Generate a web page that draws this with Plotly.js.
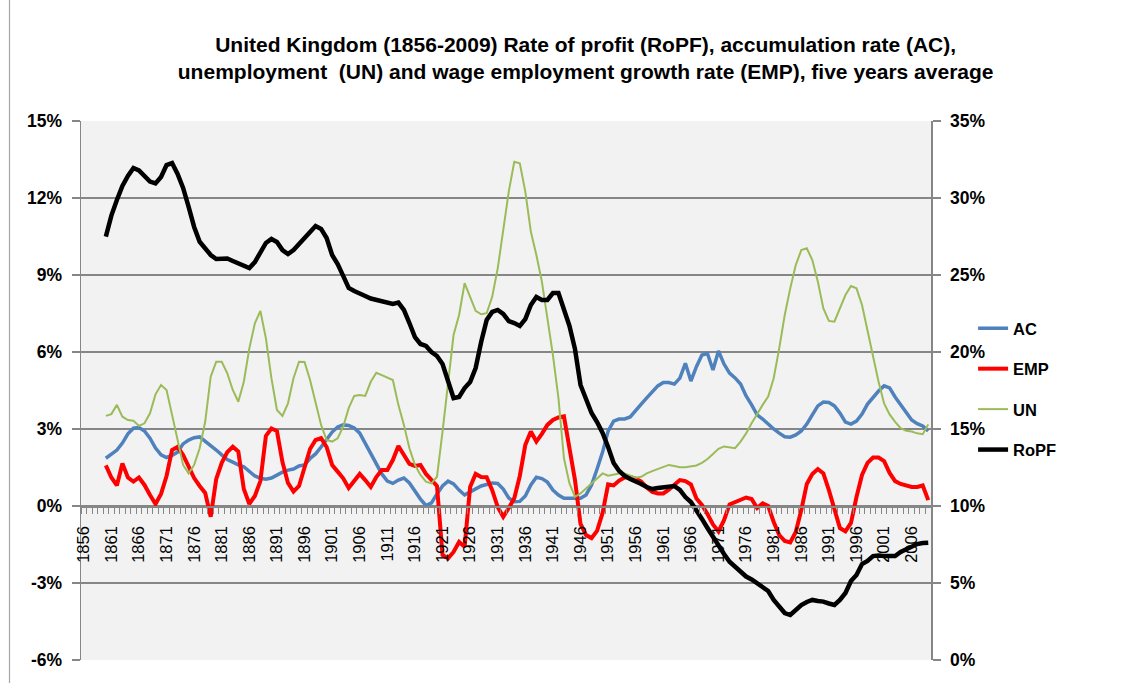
<!DOCTYPE html>
<html><head><meta charset="utf-8">
<script src="https://cdn.plot.ly/plotly-3.0.1.min.js"></script>
<style>html,body{margin:0;padding:0;background:#fff;} #chart{width:1135px;height:683px;}</style>
</head><body><div id="chart"></div>
<script>
const firstYear = 1860, lastYear = 2009;
const years = [];
for (let y = firstYear; y <= lastYear; y++) years.push(y);

// Accumulation rate (AC), % (left axis)
const AC = [
 1.86, 2.03, 2.18, 2.45, 2.81, 3.03, 3.06, 2.92, 2.64, 2.26,
 1.99, 1.89, 1.97, 2.10, 2.42, 2.57, 2.66, 2.69, 2.53, 2.38,
 2.18, 1.99, 1.81, 1.71, 1.60, 1.53, 1.34, 1.17, 1.08, 1.04,
 1.09, 1.21, 1.32, 1.40, 1.44, 1.56, 1.60, 1.85, 2.03, 2.30,
 2.57, 2.88, 3.08, 3.16, 3.14, 3.04, 2.84, 2.45, 2.03, 1.60,
 1.25, 0.97, 0.88, 1.01, 1.09, 0.90, 0.58, 0.27, 0.02, 0.12,
 0.47, 0.78, 0.97, 0.86, 0.62, 0.43, 0.55, 0.66, 0.78, 0.84,
 0.90, 0.88, 0.66, 0.31, 0.17, 0.18, 0.39, 0.82, 1.12, 1.07,
 0.93, 0.62, 0.43, 0.30, 0.30, 0.30, 0.30, 0.43, 0.82, 1.44,
 2.10, 2.92, 3.31, 3.39, 3.39, 3.47, 3.74, 3.97, 4.21, 4.44,
 4.68, 4.81, 4.81, 4.75, 4.98, 5.56, 4.87, 5.43, 5.88, 5.94,
 5.30, 6.04, 5.53, 5.18, 4.99, 4.75, 4.29, 3.94, 3.55, 3.39,
 3.19, 3.00, 2.84, 2.70, 2.68, 2.77, 2.92, 3.19, 3.55, 3.90,
 4.05, 4.03, 3.90, 3.62, 3.27, 3.19, 3.31, 3.58, 3.97, 4.25,
 4.48, 4.68, 4.60, 4.25, 3.94, 3.62, 3.35, 3.21, 3.12, 2.92
];

// Wage employment growth rate (EMP), % (left axis)
const EMP = [
 1.58, 1.11, 0.80, 1.66, 1.11, 0.95, 1.11, 0.82, 0.43, 0.08,
 0.47, 1.17, 2.18, 2.30, 1.99, 1.56, 1.09, 0.78, 0.51, -0.42,
 1.05, 1.68, 2.10, 2.31, 2.12, 0.66, 0.08, 0.39, 0.97, 2.73,
 3.02, 2.92, 1.71, 0.90, 0.56, 0.78, 1.52, 2.22, 2.57, 2.64,
 2.30, 1.60, 1.34, 1.08, 0.70, 0.97, 1.25, 1.01, 0.74, 1.13,
 1.40, 1.40, 1.79, 2.34, 1.99, 1.64, 1.56, 1.60, 1.25, 1.01,
 0.78, -1.91, -2.04, -1.79, -1.40, -1.59, 0.74, 1.25, 1.13, 1.12,
 0.62, -0.04, -0.42, -0.08, 0.30, 1.17, 2.38, 2.90, 2.51, 2.81,
 3.16, 3.35, 3.45, 3.49, 2.34, 1.01, -0.70, -1.13, -1.25, -0.97,
 -0.27, 0.84, 0.80, 0.99, 1.11, 1.13, 1.07, 0.95, 0.72, 0.55,
 0.49, 0.49, 0.64, 0.84, 1.01, 0.97, 0.84, 0.29, 0.04, -0.31,
 -0.72, -0.99, -0.55, 0.06, 0.14, 0.23, 0.33, 0.27, -0.08, 0.10,
 0.00, -0.62, -1.13, -1.36, -1.42, -1.01, -0.16, 0.86, 1.25, 1.44,
 1.27, 0.62, -0.08, -0.86, -0.99, -0.66, 0.35, 1.21, 1.68, 1.89,
 1.89, 1.75, 1.29, 0.97, 0.86, 0.80, 0.74, 0.74, 0.80, 0.23
];

// Unemployment (UN), % (left axis)
const UN = [
 3.51, 3.58, 3.94, 3.48, 3.35, 3.32, 3.12, 3.22, 3.61, 4.35,
 4.71, 4.52, 3.55, 2.57, 1.60, 1.27, 1.60, 2.25, 3.28, 5.04,
 5.62, 5.62, 5.17, 4.52, 4.06, 4.84, 6.14, 7.12, 7.60, 6.53,
 4.98, 3.74, 3.51, 4.00, 4.98, 5.62, 5.61, 4.91, 4.06, 3.16,
 2.57, 2.51, 2.64, 3.09, 3.81, 4.29, 4.32, 4.29, 4.84, 5.19,
 5.10, 5.01, 4.91, 3.94, 3.16, 2.25, 1.60, 1.21, 0.95, 0.88,
 1.14, 2.90, 4.84, 6.66, 7.44, 8.68, 8.15, 7.60, 7.47, 7.51,
 8.15, 9.26, 10.75, 12.25, 13.41, 13.35, 12.25, 10.69, 9.78, 8.74,
 7.31, 5.88, 4.20, 1.86, 0.88, 0.36, 0.49, 0.69, 0.88, 1.08,
 1.27, 1.18, 1.23, 1.27, 1.27, 1.18, 1.10, 1.14, 1.27, 1.36,
 1.44, 1.51, 1.60, 1.56, 1.51, 1.51, 1.54, 1.58, 1.68, 1.83,
 2.03, 2.23, 2.32, 2.29, 2.25, 2.51, 2.83, 3.22, 3.61, 3.94,
 4.26, 4.98, 6.14, 7.44, 8.48, 9.39, 9.97, 10.04, 9.58, 8.74,
 7.70, 7.21, 7.18, 7.70, 8.22, 8.57, 8.48, 7.83, 6.79, 5.75,
 4.84, 4.00, 3.57, 3.28, 3.03, 2.93, 2.90, 2.83, 2.80, 3.18
];

// Rate of profit (RoPF), % (right axis)
const RoPF = [
 27.49, 28.86, 29.87, 30.78, 31.43, 31.95, 31.79, 31.43, 31.07, 30.95,
 31.36, 32.14, 32.27, 31.56, 30.65, 29.42, 28.12, 27.16, 26.69, 26.30,
 26.04, 26.07, 26.07, 25.91, 25.78, 25.58, 25.45, 25.84, 26.43, 27.08,
 27.34, 27.14, 26.62, 26.36, 26.62, 27.01, 27.40, 27.86, 28.18, 27.99,
 27.40, 26.30, 25.71, 24.94, 24.16, 23.96, 23.83, 23.64, 23.47, 23.38,
 23.25, 23.15, 23.12, 23.21, 22.73, 21.88, 20.97, 20.52, 20.39, 20.00,
 19.74, 19.22, 18.18, 17.01, 17.08, 17.66, 18.05, 18.96, 20.65, 22.08,
 22.60, 22.73, 22.47, 22.01, 21.88, 21.69, 22.14, 23.05, 23.57, 23.38,
 23.38, 23.83, 23.83, 22.79, 21.69, 20.19, 17.86, 16.95, 16.04, 15.45,
 14.74, 13.83, 12.79, 12.27, 11.95, 11.75, 11.62, 11.43, 11.23, 11.10,
 11.17, 11.23, 11.27, 11.30, 11.04, 10.58, 10.26, 9.74, 9.16, 8.57,
 7.99, 7.40, 6.88, 6.38, 6.04, 5.71, 5.42, 5.23, 4.97, 4.77,
 4.48, 3.90, 3.51, 3.05, 2.92, 3.25, 3.57, 3.77, 3.90, 3.83,
 3.79, 3.67, 3.57, 3.90, 4.35, 5.13, 5.52, 6.23, 6.43, 6.75,
 6.79, 6.75, 6.72, 6.75, 7.01, 7.21, 7.40, 7.53, 7.60, 7.62
];

const tickYears = [1856,1861,1866,1871,1876,1881,1886,1891,1896,1901,1906,1911,1916,1921,1926,1931,1936,1941,1946,1951,1956,1961,1966,1971,1976,1981,1986,1991,1996,2001,2006];
const tickYearText = tickYears.map(String);
const leftTicks = [-6, -3, 0, 3, 6, 9, 12, 15];
const leftTickText = ['-6%', '-3%', '0%', '3%', '6%', '9%', '12%', '15%'];
const rightTicks = [0, 5, 10, 15, 20, 25, 30, 35];
const rightTickText = ['0%', '5%', '10%', '15%', '20%', '25%', '30%', '35%'];

const titleText = '<b>United Kingdom (1856-2009) Rate of profit (RoPF), accumulation rate (AC),<br>unemployment\u00a0 (UN) and wage employment growth rate (EMP), five years average</b>';

const FONT = 'Liberation Sans, Arial, sans-serif';
const GRID = '#868686';

const traces = [
  {x: years, y: AC, name: 'AC', type: 'scatter', mode: 'lines', yaxis: 'y', legendgroup: 'g1',
   line: {color: '#4f81bd', width: 3.5}},
  {x: years, y: EMP, name: 'EMP', type: 'scatter', mode: 'lines', yaxis: 'y', legendgroup: 'g2',
   line: {color: '#ff0000', width: 4}},
  {x: years, y: UN, name: 'UN', type: 'scatter', mode: 'lines', yaxis: 'y', legendgroup: 'g3',
   line: {color: '#9bbb59', width: 2}},
  {x: years, y: RoPF, name: 'RoPF', type: 'scatter', mode: 'lines', yaxis: 'y2', legendgroup: 'g4',
   line: {color: '#000000', width: 4.5}}
];

const layout = {
  width: 1135, height: 683,
  margin: {l: 81, r: 204, t: 121, b: 23, pad: 0},
  paper_bgcolor: '#ffffff',
  plot_bgcolor: '#f2f2f2',
  font: {family: FONT, color: '#000'},
  title: {
    text: titleText,
    font: {family: FONT, size: 21, color: '#000'},
    x: 0.516, xref: 'container', xanchor: 'center',
    y: 1 - 52/683, yref: 'container', yanchor: 'top'
  },
  xaxis: {
    range: [1855.5, 2009.5],
    anchor: 'free', position: 6/21,
    tickmode: 'array', tickvals: tickYears, ticktext: tickYearText,
    tickangle: -90, ticks: '', ticklabelstandoff: 12,
    tickfont: {family: FONT, size: 16.5, color: '#000'},
    minor: {tickmode: 'linear', tick0: 1855.5, dtick: 1, ticks: 'outside', ticklen: 6, tickwidth: 1, tickcolor: GRID, showgrid: false},
    showgrid: false, zeroline: false,
    showline: true, linecolor: GRID, linewidth: 1.5,
    automargin: false, fixedrange: true
  },
  yaxis: {
    range: [-6, 15],
    tickmode: 'array', tickvals: leftTicks, ticktext: leftTickText,
    ticks: 'outside', ticklen: 8, tickwidth: 1.5, tickcolor: GRID,
    ticklabelstandoff: 6,
    tickfont: {family: FONT, size: 17.5, color: '#000', weight: 'bold'},
    showgrid: true, gridcolor: GRID, gridwidth: 1.5,
    zeroline: false, showline: true, linecolor: GRID, linewidth: 1.5,
    automargin: false, fixedrange: true
  },
  yaxis2: {
    range: [0, 35], overlaying: 'y', side: 'right', anchor: 'x',
    tickmode: 'array', tickvals: rightTicks, ticktext: rightTickText,
    ticks: 'outside', ticklen: 8, tickwidth: 1.5, tickcolor: GRID,
    ticklabelstandoff: 6,
    tickfont: {family: FONT, size: 17.5, color: '#000', weight: 'bold'},
    showgrid: false, zeroline: false, showline: true, linecolor: GRID, linewidth: 1.5,
    automargin: false, fixedrange: true
  },
  showlegend: true,
  legend: {
    x: 1.0495, xanchor: 'left', y: 0.6475, yanchor: 'top',
    traceorder: 'grouped', tracegroupgap: 16,
    font: {family: FONT, size: 16.5, color: '#000', weight: 'bold'},
    bgcolor: 'rgba(0,0,0,0)', borderwidth: 0
  },
  shapes: [
    {type: 'line', xref: 'paper', yref: 'paper',
     x0: (9.5 - 81)/850, x1: (9.5 - 81)/850, y0: -23/539, y1: 660/539,
     line: {color: '#a6a6a6', width: 1.2}}
  ]
};

Plotly.newPlot('chart', traces, layout, {displayModeBar: false, staticPlot: true});
</script>
</body></html>
